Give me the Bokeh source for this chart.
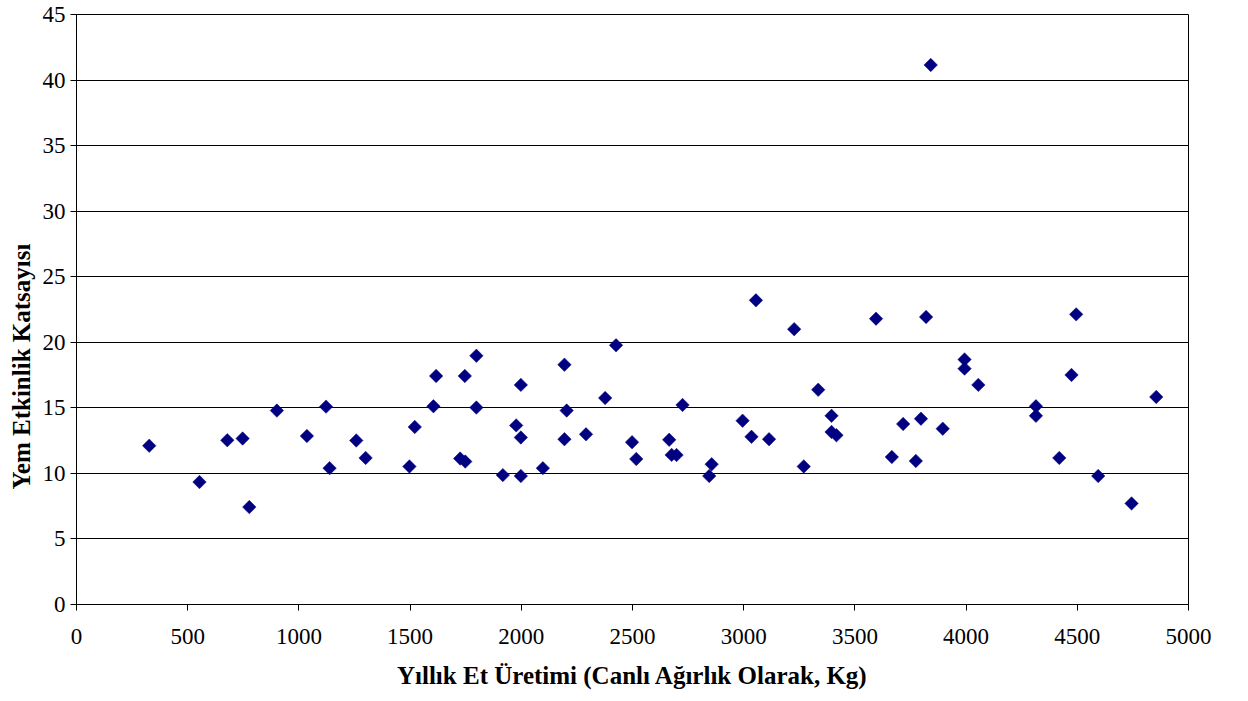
import numpy as np
from bokeh.plotting import figure
from bokeh.layouts import row
from bokeh.models import Range1d, FixedTicker
from bokeh.core.properties import value
from bokeh.embed import file_html
from bokeh.resources import INLINE

# Data
uretim_kg = [327, 553, 678, 747, 777, 901, 1036, 1122, 1138, 1258, 1300, 1497, 1521,
             1605, 1617, 1725, 1746, 1748, 1798, 1798, 1917, 1977, 1998, 1998, 1998,
             2097, 2194, 2194, 2204, 2291, 2377, 2426, 2498, 2517, 2665, 2676, 2698,
             2725, 2845, 2856, 2995, 3035, 3055, 3114, 3227, 3270, 3335, 3395, 3395,
             3417, 3595, 3666, 3717, 3774, 3797, 3820, 3841, 3895, 3993, 3993, 4055,
             4314, 4314, 4419, 4474, 4495, 4594, 4744, 4855]
yem_etkinlik = [12.11, 9.34, 12.53, 12.66, 7.43, 14.79, 12.85, 15.09, 10.40, 12.51, 11.18, 10.53, 13.54,
                15.12, 17.43, 11.13, 17.43, 10.90, 18.97, 15.02, 9.87, 13.66, 16.75, 12.74, 9.80,
                10.40, 18.29, 12.61, 14.79, 12.98, 15.75, 19.77, 12.38, 11.10, 12.56, 11.41, 11.40,
                15.22, 9.80, 10.70, 14.02, 12.79, 23.20, 12.61, 21.00, 10.53, 16.38, 14.39, 13.16,
                12.91, 21.80, 11.25, 13.77, 10.95, 14.17, 21.93, 41.15, 13.41, 18.69, 17.99, 16.75,
                15.12, 14.39, 11.18, 17.51, 22.13, 9.80, 7.71, 15.83]
x_ticks = [0, 500, 1000, 1500, 2000, 2500, 3000, 3500, 4000, 4500, 5000]
y_ticks = [0, 5, 10, 15, 20, 25, 30, 35, 40, 45]
x_title = "Yıllık Et Üretimi (Canlı Ağırlık Olarak, Kg)"
y_title = "Yem Etkinlik Katsayısı"

FONT = "Times New Roman"
H = 693
W = 1240
LEFT_W = 38
FRAME_TOP = 14
FRAME_BOTTOM = 604
FRAME_RIGHT = 1188

y_range = Range1d(0, 45)

# narrow strip holding the rotated y title (its frame aligns with the main plot's frame)
t = figure(width=LEFT_W, height=H, output_backend="svg", toolbar_location=None,
           x_range=Range1d(0, LEFT_W), y_range=y_range, min_border=0)
t.axis.visible = False
t.grid.visible = False
t.outline_line_color = None
t.background_fill_color = "white"
t.border_fill_color = "white"
title_pos = 45 * (FRAME_BOTTOM - 366) / (FRAME_BOTTOM - FRAME_TOP)
t.text(x=[21], y=[title_pos], text=[y_title], angle=np.pi / 2,
       text_align="center", text_baseline="middle",
       text_font=value(FONT), text_font_style="bold", text_font_size="25px",
       text_color="black")

p = figure(width=W - LEFT_W, height=H, output_backend="svg", toolbar_location=None,
           x_range=Range1d(0, 5000), y_range=y_range,
           min_border_left=76 - LEFT_W, min_border_right=W - FRAME_RIGHT,
           min_border_top=FRAME_TOP, min_border_bottom=H - FRAME_BOTTOM)
p.background_fill_color = "white"
p.border_fill_color = "white"
p.outline_line_color = "black"
p.outline_line_width = 1

p.xgrid.visible = False
p.ygrid.grid_line_color = "black"
p.ygrid.grid_line_width = 1
p.ygrid.ticker = FixedTicker(ticks=y_ticks)

for ax in (p.xaxis[0], p.yaxis[0]):
    ax.axis_line_color = "black"
    ax.major_tick_line_color = "black"
    ax.minor_tick_line_color = None
    ax.major_label_text_font = FONT
    ax.major_label_text_font_size = "23px"
    ax.major_label_text_color = "black"
    ax.major_tick_in = 0
    ax.major_tick_out = 6

p.xaxis[0].ticker = FixedTicker(ticks=x_ticks)
p.yaxis[0].ticker = FixedTicker(ticks=y_ticks)
p.xaxis[0].major_label_standoff = 18
p.yaxis[0].major_label_standoff = 5

p.xaxis[0].axis_label = x_title
p.xaxis[0].axis_label_text_font = FONT
p.xaxis[0].axis_label_text_font_style = "bold"
p.xaxis[0].axis_label_text_font_size = "25px"
p.xaxis[0].axis_label_text_color = "black"
p.xaxis[0].axis_label_standoff = 15

p.scatter(uretim_kg, yem_etkinlik, marker="square", angle=np.pi / 4, size=9.5,
          fill_color="#000080", line_color="#000080", line_width=0.5)

layout = row(t, p, spacing=0)
open("out.html", "w").write(file_html(layout, INLINE))
